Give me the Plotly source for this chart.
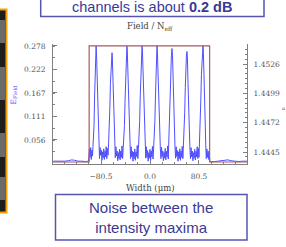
import plotly.graph_objects as go

W, H = 286, 247

# ---------------- data ----------------
width_um = [-159, -152, -146, -140, -134, -129, -124, -118, -112, -106, -101,
            -100, -99.5, -98.5, -97.5, -96.5, -95.5, -94.5, -93.5,
            -93, -92, -91, -90, -89, -88.6, -88, -87, -86, -85, -84,
            -83, -82, -81, -80, -79, -78, -77, -76, -75, -74, -73, -72, -71, -70, -69, -68,
            -67, -66, -65, -64, -63, -62.4, -62, -61, -60, -59, -58,
            -57, -56, -55, -54, -53, -52, -51, -50, -49, -48, -47, -46, -45, -44, -43,
            -42, -41, -40, -39, -38, -37.5, -37, -36, -35, -34, -33,
            -32, -31, -30, -29, -28, -27, -26, -25, -24, -23, -22, -21, -20, -19, -18,
            -17, -16, -15, -14, -13.1, -12.5, -12, -11, -10, -9, -8,
            -7, -6, -5, -4, -3, -2, -1, 0, 1, 2, 3, 4, 5, 6, 7,
            8, 9, 10, 11, 11.5, 12, 13, 14, 15, 16, 17,
            18, 19, 20, 21, 22, 23, 24, 25, 26, 27, 28, 29, 30, 31,
            32, 33, 34, 35, 36.1, 37, 38, 39, 40, 41,
            42, 43, 44, 45, 46, 47, 48, 49, 50, 51, 52, 53, 54, 55,
            56, 57, 58, 59, 60, 60.8, 61.5, 62.5, 63.5, 64.5, 65.5,
            66.5, 67.5, 68.5, 69.5, 70.5, 71.5, 72.5, 73.5, 74.5, 75.5, 76.5, 77.5, 78.5, 79.5, 80.5, 81.5,
            82.5, 83.5, 84.5, 85.5, 86.5, 87.1, 87.8, 88.8, 89.8, 90.8, 91.8,
            92.5, 93.5, 94.5, 95.5, 96.5, 97.5, 98.2,
            100, 106, 112, 118, 124, 128, 133, 140, 146, 152, 159]

e_field = [0.006, 0.006, 0.005, 0.006, 0.007, 0.009, 0.008, 0.006, 0.006, 0.005, 0.006,
           0.020, 0.035, 0.015, 0.038, 0.010, 0.032, 0.018, 0.045,
           0.050, 0.090, 0.160, 0.230, 0.275, 0.278, 0.265, 0.210, 0.140, 0.080, 0.045,
           0.012, 0.038, 0.020, 0.032, 0.008, 0.028, 0.014, 0.035, 0.010, 0.030, 0.016, 0.040, 0.012, 0.036, 0.020, 0.050,
           0.080, 0.130, 0.190, 0.235, 0.258, 0.262, 0.255, 0.200, 0.130, 0.070, 0.040,
           0.014, 0.040, 0.018, 0.030, 0.007, 0.026, 0.012, 0.034, 0.009, 0.030, 0.015, 0.042, 0.012, 0.038, 0.055,
           0.090, 0.150, 0.220, 0.265, 0.278, 0.274, 0.250, 0.190, 0.120, 0.065, 0.040,
           0.012, 0.040, 0.016, 0.030, 0.006, 0.027, 0.012, 0.035, 0.008, 0.028, 0.017, 0.043, 0.012, 0.036, 0.060,
           0.100, 0.160, 0.230, 0.268, 0.278, 0.270, 0.245, 0.180, 0.110, 0.060, 0.038,
           0.013, 0.040, 0.015, 0.031, 0.006, 0.026, 0.013, 0.034, 0.008, 0.030, 0.016, 0.041, 0.011, 0.037, 0.058,
           0.100, 0.160, 0.225, 0.270, 0.279, 0.272, 0.220, 0.150, 0.085, 0.050, 0.035,
           0.012, 0.039, 0.017, 0.030, 0.007, 0.027, 0.013, 0.036, 0.009, 0.029, 0.016, 0.042, 0.011, 0.048,
           0.080, 0.140, 0.200, 0.250, 0.272, 0.255, 0.190, 0.120, 0.070, 0.042,
           0.013, 0.040, 0.017, 0.031, 0.006, 0.028, 0.012, 0.035, 0.008, 0.030, 0.015, 0.041, 0.012, 0.045,
           0.070, 0.120, 0.180, 0.235, 0.260, 0.265, 0.250, 0.190, 0.120, 0.070, 0.040,
           0.012, 0.038, 0.016, 0.030, 0.007, 0.026, 0.013, 0.034, 0.009, 0.029, 0.016, 0.040, 0.012, 0.036, 0.015, 0.050,
           0.090, 0.150, 0.210, 0.260, 0.277, 0.279, 0.260, 0.190, 0.110, 0.060, 0.035,
           0.012, 0.035, 0.015, 0.030, 0.010, 0.028, 0.006,
           0.005, 0.005, 0.006, 0.006, 0.007, 0.009, 0.007, 0.006, 0.005, 0.006, 0.006]

profile_x = [-160, -100, -100, 98, 98, 160]
profile_n = [1.44358, 1.44358, 1.45426, 1.45426, 1.44358, 1.44358]

x_tickvals = [-80.5, 0.0, 80.5]
x_ticktext = ["\u221280.5", "0.0", "80.5"]
y_tickvals = [0.056, 0.111, 0.167, 0.222, 0.278]
y2_tickvals = [1.4445, 1.4472, 1.4499, 1.4526]

top_text = "channels is about <b>0.2 dB</b>"
bottom_text = "Noise between the<br>intensity maxima"


def px(x):
    return x / W


def py(y):
    return 1 - y / H


TICKFONT = dict(family="DejaVu Serif", size=7.5, color="#555555")
AXC = "#808080"

fig = go.Figure()
fig.add_trace(go.Scatter(x=profile_x, y=profile_n, yaxis="y2", mode="lines",
                         line=dict(color="#a85a5a", width=1.2), hoverinfo="skip"))
fig.add_trace(go.Scatter(x=width_um, y=e_field, mode="lines",
                         line=dict(color="#4f4fff", width=1), hoverinfo="skip"))

dom_y = [py(163.7), py(44)]

fig.update_layout(
    width=W, height=H, autosize=False,
    margin=dict(l=0, r=0, t=0, b=0),
    paper_bgcolor="white", plot_bgcolor="white",
    showlegend=False,
    xaxis=dict(domain=[px(53), px(247)], range=[-159.4, 159.4],
               showgrid=False, zeroline=False, showline=True, linecolor=AXC, linewidth=1,
               ticks="inside", ticklen=4, tickcolor=AXC,
               tickmode="array", tickvals=x_tickvals, ticktext=x_ticktext,
               minor=dict(ticks="inside", ticklen=2, dtick=20.125, tick0=0, tickcolor=AXC),
               tickfont=TICKFONT, ticklabelstandoff=5, automargin=False),
    yaxis=dict(domain=dom_y, range=[0, 0.2827],
               showgrid=False, zeroline=False, showline=True, linecolor=AXC, linewidth=1,
               ticks="inside", ticklen=4, tickcolor=AXC,
               tickmode="array", tickvals=y_tickvals, ticktext=[f"{v:.3f}" for v in y_tickvals],
               minor=dict(ticks="inside", ticklen=2, dtick=0.02778, tick0=0, tickcolor=AXC),
               tickfont=TICKFONT, ticklabelstandoff=5, automargin=False),
    yaxis2=dict(domain=dom_y, overlaying="y", side="right", anchor="x",
                range=[1.443423, 1.454441],
                showgrid=False, zeroline=False, showline=True, linecolor=AXC, linewidth=1,
                ticks="inside", ticklen=4, tickcolor=AXC,
                tickmode="array", tickvals=y2_tickvals, ticktext=[f"{v:.4f}" for v in y2_tickvals],
                minor=dict(ticks="inside", ticklen=2, dtick=0.00045, tick0=1.4445, tickcolor=AXC),
                tickfont=TICKFONT, ticklabelstandoff=4, automargin=False),
)

shapes = []
# left orange-framed photo strip
shapes.append(dict(type="rect", xref="paper", yref="paper", x0=px(-1), x1=px(6.5), y0=py(212.5), y1=py(9.5),
                   fillcolor="#1e1e1e", line=dict(color="#f5a000", width=2), layer="below"))
for a, b in [(20, 43), (67, 100), (133, 157), (177, 200)]:
    shapes.append(dict(type="rect", xref="paper", yref="paper", x0=px(0), x1=px(5), y0=py(b), y1=py(a),
                       fillcolor="#6a6a6a", line=dict(width=0), layer="below"))
# top text box
shapes.append(dict(type="rect", xref="paper", yref="paper", x0=px(40.7), x1=px(264), y0=py(16.5), y1=py(-3),
                   fillcolor="white", line=dict(color="#5555b0", width=1.5)))
# bottom text box
shapes.append(dict(type="rect", xref="paper", yref="paper", x0=px(55.5), x1=px(247), y0=py(240), y1=py(194.5),
                   fillcolor="white", line=dict(color="#5555b0", width=1.5)))
fig.update_layout(shapes=shapes)

ann = []
ann.append(dict(text=top_text, x=px(152), y=py(7.3), xref="paper", yref="paper", showarrow=False,
                font=dict(family="Liberation Sans", size=14.5, color="#3a3a96"), xanchor="center", yanchor="middle"))
ann.append(dict(text=bottom_text, x=px(151), y=py(217.5), xref="paper", yref="paper", showarrow=False,
                font=dict(family="Liberation Sans", size=15, color="#3a3a96"), xanchor="center", yanchor="middle"))
ann.append(dict(text="Field / N<sub>eff</sub>", x=px(150), y=py(26), xref="paper", yref="paper", showarrow=False,
                font=dict(family="DejaVu Serif", size=8.5, color="#444444"), xanchor="center", yanchor="middle"))
ann.append(dict(text="Width (\u03bcm)", x=px(150), y=py(188), xref="paper", yref="paper", showarrow=False,
                font=dict(family="DejaVu Serif", size=8.5, color="#444444"), xanchor="center", yanchor="middle"))
ann.append(dict(text="E<sub>Field</sub>", x=px(13.5), y=py(95), xref="paper", yref="paper", showarrow=False,
                textangle=-90, font=dict(family="DejaVu Serif", size=7.5, color="#5555ff"),
                xanchor="center", yanchor="middle"))
ann.append(dict(text="n", x=px(282.5), y=py(109), xref="paper", yref="paper", showarrow=False,
                textangle=-90, font=dict(family="DejaVu Serif", size=5, color="#a85a5a"),
                xanchor="center", yanchor="middle"))
fig.update_layout(annotations=ann)

fig.write_html("out.html", config={"displayModeBar": False},
               post_script="document.body.style.margin='0px';document.body.style.overflow='hidden';")
